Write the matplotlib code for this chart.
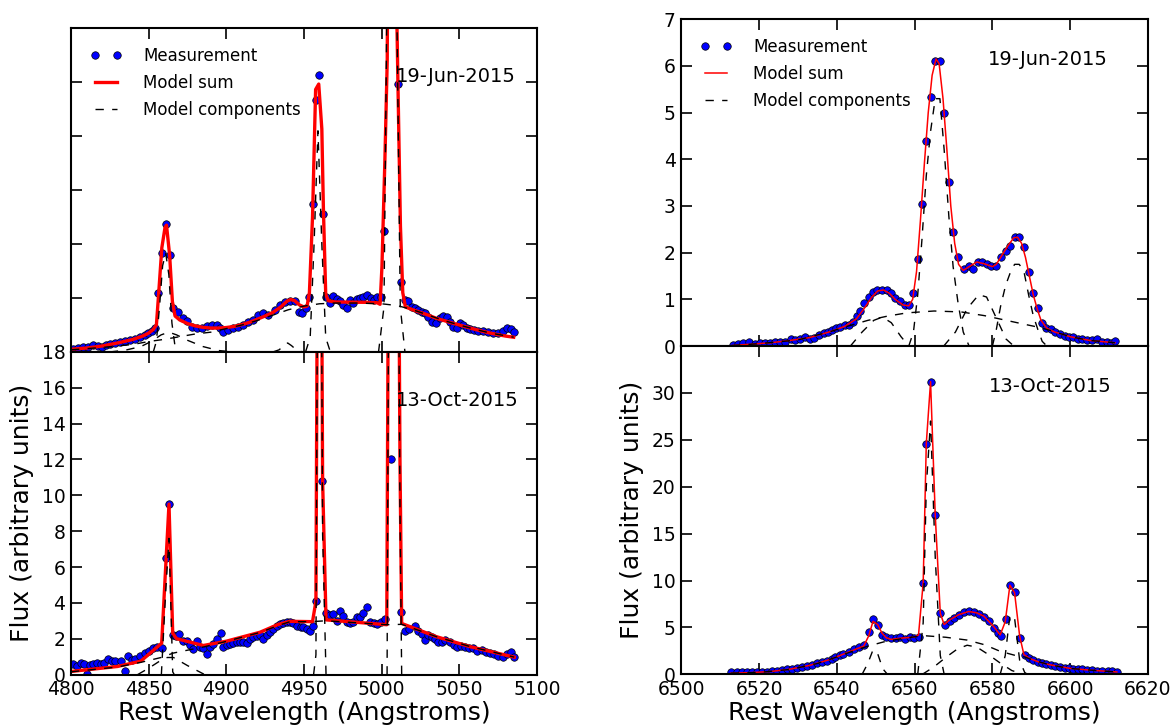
import matplotlib
matplotlib.use("Agg")
import matplotlib.pyplot as plt

plt.rcParams['font.family'] = ['DejaVu Sans']

# ================= Hbeta / [OIII] region, 19-Jun-2015 =================
hbj_wave = [4801.5, 4804.7, 4807.9, 4811.2, 4814.4, 4817.6, 4819.7, 4822.4, 4825.1, 4828.3,
            4831.5, 4834.8, 4838.0, 4841.2, 4844.4, 4847.6, 4849.8, 4851.9, 4854.1, 4856.2,
            4858.4, 4861.2, 4863.7, 4865.9, 4869.1, 4872.3, 4874.5, 4877.7, 4880.9, 4884.1,
            4887.4, 4890.6, 4893.8, 4896.0, 4898.1, 4901.3, 4904.5, 4907.8, 4911.0, 4914.2,
            4917.4, 4920.6, 4923.9, 4927.1, 4931.3, 4934.6, 4937.8, 4941.0, 4944.2, 4946.8,
            4948.9, 4951.1, 4953.2, 4955.6, 4957.7, 4959.9, 4962.0, 4964.2, 4966.7, 4968.9,
            4971.0, 4973.2, 4975.3, 4977.5, 4979.6, 4981.7, 4983.9, 4986.1, 4988.2, 4990.8,
            4992.9, 4995.1, 4997.2, 4999.4, 5001.7, 5003.8, 5006.0, 5008.1, 5010.3, 5012.4,
            5015.0, 5017.1, 5019.3, 5021.5, 5023.6, 5025.8, 5027.9, 5030.0, 5032.2, 5034.8,
            5037.6, 5039.7, 5041.9, 5044.0, 5046.2, 5048.3, 5050.4, 5052.6, 5054.7, 5056.9,
            5059.4, 5062.2, 5065.4, 5068.7, 5071.9, 5075.1, 5078.3, 5080.9, 5083.0, 5085.4]
hbj_flux = [0.17, 0.24, 0.30, 0.30, 0.37, 0.33, 0.30, 0.38, 0.45, 0.52,
            0.56, 0.63, 0.67, 0.74, 0.85, 0.93, 1.04, 1.17, 1.35, 3.27,
            5.53, 7.12, 5.40, 2.43, 2.24, 1.87, 1.74, 1.41, 1.32, 1.32,
            1.45, 1.50, 1.50, 1.32, 1.10, 1.22, 1.32, 1.39, 1.50, 1.67,
            1.78, 2.06, 2.15, 2.06, 2.34, 2.62, 2.80, 2.86, 2.86, 2.24,
            2.15, 2.43, 3.08, 8.22, 14.02, 15.41, 7.68, 3.08, 2.71, 3.12,
            2.93, 2.86, 2.62, 2.43, 2.89, 2.71, 2.93, 2.99, 3.08, 3.17,
            2.99, 2.89, 3.04, 3.04, 6.73, 30.0, 60.0, 45.0, 14.91, 3.88,
            2.89, 2.86, 2.52, 2.43, 2.34, 2.24, 2.15, 1.97, 1.69, 1.60,
            1.87, 2.00, 1.97, 1.69, 1.41, 1.35, 1.60, 1.50, 1.32, 1.26,
            1.22, 1.19, 1.19, 1.13, 1.08, 1.08, 1.19, 1.32, 1.25, 1.13]
hbj_model_wave = [4800, 4810, 4820, 4830, 4840, 4846, 4850, 4853, 4855, 4856.5, 4858.5, 4860.5,
                  4861.5, 4863.5, 4865.3, 4867, 4870, 4875, 4880, 4885, 4890, 4895, 4900, 4905,
                  4910, 4915, 4920, 4925, 4930, 4935, 4939, 4941.5, 4944, 4947, 4950, 4952,
                  4953.5, 4955.5, 4957.5, 4959.5, 4961.5, 4962.5, 4964, 4965.7, 4970, 4980,
                  4990, 4997, 4999, 5000.2, 5002.1, 5003.6, 5006, 5009.5, 5010.6, 5012.1,
                  5013.6, 5015.3, 5020, 5025, 5030, 5035, 5040, 5045, 5050, 5055, 5060, 5065,
                  5070, 5075, 5080, 5085]
hbj_model_flux = [0.15, 0.22, 0.33, 0.50, 0.70, 0.88, 1.05, 1.25, 1.50, 3.30, 5.80, 6.90,
                  7.05, 5.40, 2.80, 2.00, 1.78, 1.58, 1.45, 1.37, 1.33, 1.33, 1.36, 1.42,
                  1.52, 1.65, 1.82, 2.00, 2.20, 2.50, 2.82, 2.92, 2.85, 2.62, 2.50, 2.55,
                  3.30, 7.50, 14.6, 14.9, 12.4, 8.0, 3.2, 2.85, 2.78, 2.77,
                  2.76, 2.74, 2.65, 4.75, 10.7, 16.2, 60.0, 20.0, 14.4, 7.0,
                  3.3, 2.5, 2.35, 2.20, 2.05, 1.88, 1.75, 1.62, 1.50, 1.38, 1.26, 1.15,
                  1.05, 0.96, 0.88, 0.82]
hbj_cont_wave = [4800, 4820, 4840, 4850, 4860, 4870, 4880, 4890, 4900, 4910, 4920, 4930, 4940,
                 4950, 4960, 4970, 4985, 5000, 5010, 5020, 5030, 5040, 5050, 5060, 5070, 5085]
hbj_cont_flux = [0.12, 0.25, 0.42, 0.58, 0.70, 0.85, 1.00, 1.10, 1.30, 1.50, 1.75, 2.05, 2.35,
                 2.55, 2.68, 2.72, 2.72, 2.68, 2.58, 2.35, 2.05, 1.75, 1.50, 1.26, 1.05, 0.82]
hbj_bhb_wave = [4825, 4835, 4845, 4852, 4858, 4863, 4868, 4875, 4885, 4895, 4905]
hbj_bhb_flux = [0.0, 0.10, 0.30, 0.60, 0.95, 1.10, 0.95, 0.65, 0.30, 0.08, 0.0]
hbj_nhb_wave = [4853, 4855, 4857, 4859, 4861, 4863, 4865, 4867, 4869]
hbj_nhb_flux = [0.0, 0.6, 2.5, 4.8, 5.5, 4.3, 1.6, 0.3, 0.0]
hbj_bump_wave = [4930, 4934, 4937, 4939.5, 4942, 4945, 4949]
hbj_bump_flux = [0.0, 0.12, 0.35, 0.50, 0.35, 0.12, 0.0]
hbj_o3a_wave = [4951, 4954, 4956.5, 4959, 4961.5, 4964, 4967]
hbj_o3a_flux = [0.0, 0.8, 6.0, 12.3, 6.0, 0.8, 0.0]
hbj_o3b_wave = [4998, 5001.5, 5004, 5006.5, 5009, 5012, 5015]
hbj_o3b_flux = [0.0, 2.5, 25.0, 57.0, 25.0, 2.5, 0.0]

# ================= Hbeta / [OIII] region, 13-Oct-2015 =================
hbo_wave = [4801.1, 4803.6, 4806.2, 4808.4, 4810.0, 4812.2, 4814.4, 4816.9, 4819.1, 4821.2,
            4824.0, 4826.2, 4828.3, 4832.2, 4834.8, 4836.9, 4839.1, 4841.2, 4844.4, 4847.6,
            4850.4, 4853.0, 4855.2, 4858.4, 4860.9, 4863.1, 4865.5, 4867.6, 4869.7, 4871.9,
            4874.5, 4876.6, 4878.7, 4880.9, 4883.0, 4885.2, 4887.3, 4889.5, 4891.6, 4893.8,
            4896.4, 4898.1, 4900.2, 4902.4, 4904.5, 4906.7, 4908.8, 4910.9, 4913.1, 4915.2,
            4917.4, 4919.5, 4921.7, 4923.8, 4926.0, 4928.1, 4930.2, 4932.4, 4934.6, 4936.7,
            4938.9, 4941.0, 4943.1, 4945.7, 4947.9, 4949.5, 4951.7, 4953.9, 4956.0, 4957.7,
            4959.9, 4961.9, 4964.2, 4966.7, 4968.9, 4971.0, 4973.2, 4975.4, 4977.5, 4979.6,
            4981.8, 4983.9, 4986.1, 4988.2, 4990.4, 4992.5, 4995.1, 4997.3, 4999.4, 5002.2,
            5006.1, 5008.3, 5012.6, 5015.0, 5017.8, 5021.5, 5023.6, 5025.8, 5027.9, 5030.0,
            5032.2, 5034.3, 5036.4, 5038.6, 5040.8, 5044.0, 5046.6, 5048.7, 5050.9, 5053.7,
            5056.2, 5059.0, 5061.6, 5064.4, 5067.2, 5069.8, 5072.3, 5075.1, 5077.9, 5080.9,
            5083.0, 5085.4]
hbo_flux = [0.56, 0.50, 0.65, 0.61, 0.05, 0.54, 0.59, 0.65, 0.59, 0.63,
            0.87, 0.78, 0.74, 0.78, 0.22, 1.02, 0.83, 0.87, 1.06, 1.19,
            1.34, 1.49, 1.52, 1.47, 6.48, 9.51, 2.23, 2.14, 2.27, 1.86,
            1.86, 1.65, 1.43, 1.86, 1.52, 1.49, 1.15, 1.52, 1.71, 2.00,
            2.31, 1.56, 1.62, 1.71, 1.75, 1.80, 1.80, 1.84, 1.75, 2.00,
            2.08, 2.14, 2.21, 2.00, 2.19, 2.36, 2.54, 2.73, 2.82, 2.88,
            2.92, 2.92, 2.86, 2.73, 2.64, 2.64, 2.54, 2.45, 2.70, 4.09,
            40.0, 10.78, 3.44, 3.34, 3.38, 3.01, 3.53, 3.28, 2.92, 2.88,
            2.92, 3.19, 3.23, 3.41, 3.79, 2.92, 2.86, 2.82, 2.92, 3.10,
            12.0, 55.0, 3.47, 2.45, 2.54, 2.70, 2.45, 2.27, 1.90, 2.21,
            2.12, 1.97, 1.84, 1.84, 1.90, 1.84, 1.65, 1.56, 1.60, 1.52,
            1.47, 1.47, 1.34, 1.38, 1.24, 1.19, 1.15, 1.06, 0.97, 1.13,
            1.24, 0.97]
hbo_model_wave = [4800, 4830, 4845, 4858.4, 4863.1, 4865.5, 4868, 4885.2, 4900, 4921.7, 4933.5,
                  4941, 4955.5, 4957.7, 4959.9, 4962.0, 4964.2, 5003.3, 5005.2, 5008.6, 5011.8,
                  5012.9, 5035, 5056.7, 5085.4]
hbo_model_flux = [0.17, 0.45, 0.75, 1.75, 9.51, 2.30, 2.00, 1.62, 1.86, 2.36, 2.80,
                  2.97, 2.95, 4.09, 50.0, 10.8, 3.05, 2.78, 40.0, 60.0, 12.0,
                  2.85, 2.12, 1.56, 0.97]
hbo_cont_wave = [4800, 4830, 4845, 4858, 4866, 4886, 4900, 4921.7, 4935, 4941, 4955, 4964,
                 5003, 5013, 5035, 5057, 5085.4]
hbo_cont_flux = [0.15, 0.42, 0.68, 0.95, 1.20, 1.55, 1.85, 2.35, 2.78, 2.95, 2.95, 3.00,
                 2.78, 2.80, 2.12, 1.56, 0.97]
hbo_bhb_wave = [4843, 4850, 4858, 4862, 4866, 4875, 4886]
hbo_bhb_flux = [0.0, 0.35, 0.80, 0.95, 0.95, 0.50, 0.0]
hbo_nhb_wave = [4858.2, 4860.9, 4863.1, 4865.5, 4866.5]
hbo_nhb_flux = [0.0, 4.5, 7.6, 0.15, 0.0]
hbo_o3a_wave = [4956.2, 4957.7, 4959.9, 4962.0, 4964.2]
hbo_o3a_flux = [0.0, 1.1, 47.0, 7.8, 0.0]
hbo_o3b_wave = [5003.5, 5005.2, 5008.6, 5011.8, 5012.9]
hbo_o3b_flux = [0.0, 37.0, 57.0, 9.2, 0.0]

# ================= Halpha region, 19-Jun-2015 =================
haj_wave = [6513.4, 6514.7, 6516.0, 6517.5, 6519.0, 6520.3, 6521.6, 6522.8, 6524.1, 6525.4,
            6526.7, 6528.2, 6529.3, 6530.6, 6531.9, 6533.0, 6534.2, 6535.3, 6536.6, 6537.7,
            6538.7, 6539.8, 6540.9, 6542.0, 6543.0, 6544.1, 6545.2, 6546.0, 6547.1, 6548.2,
            6549.3, 6550.3, 6551.6, 6552.9, 6553.9, 6555.0, 6556.3, 6557.4, 6558.5, 6559.7,
            6560.8, 6561.9, 6563.0, 6564.1, 6565.3, 6566.5, 6567.6, 6568.8, 6569.9, 6571.2,
            6572.6, 6573.9, 6575.0, 6576.2, 6577.4, 6578.5, 6579.7, 6580.9, 6582.1, 6583.4,
            6584.5, 6585.7, 6586.9, 6588.1, 6589.3, 6590.5, 6591.7, 6592.8, 6593.9, 6595.1,
            6596.2, 6597.3, 6598.6, 6599.7, 6600.8, 6602.0, 6603.1, 6604.4, 6605.7, 6607.0,
            6608.1, 6609.4, 6610.4, 6611.5]
haj_flux = [0.02, 0.04, 0.06, 0.08, 0.04, 0.06, 0.06, 0.07, 0.08, 0.09,
            0.08, 0.14, 0.13, 0.14, 0.20, 0.14, 0.18, 0.24, 0.27, 0.29,
            0.34, 0.38, 0.41, 0.45, 0.45, 0.52, 0.64, 0.76, 0.92, 1.06,
            1.16, 1.21, 1.21, 1.20, 1.13, 1.02, 0.97, 0.88, 0.88, 1.13,
            1.86, 3.05, 4.39, 5.34, 6.11, 6.11, 4.99, 3.52, 2.45, 1.90,
            1.66, 1.71, 1.64, 1.79, 1.81, 1.76, 1.71, 1.71, 1.90, 2.04,
            2.14, 2.34, 2.34, 2.13, 1.59, 1.13, 0.81, 0.50, 0.38, 0.36,
            0.29, 0.26, 0.21, 0.20, 0.19, 0.15, 0.15, 0.13, 0.13, 0.16,
            0.08, 0.08, 0.06, 0.11]
haj_model_wave = [6513, 6518, 6523, 6528, 6533, 6538, 6542, 6545, 6547, 6549, 6550.5, 6552,
                  6553.5, 6555, 6557, 6558.5, 6559.5, 6560.5, 6561.5, 6562.5, 6563.5, 6564.5,
                  6565.5, 6566.3, 6567.3, 6568.3, 6569.3, 6570.3, 6571.3, 6572.5, 6574, 6576,
                  6578, 6580, 6581, 6582.5, 6584, 6585.5, 6586.5, 6587.5, 6588.5, 6589.5,
                  6590.5, 6591.5, 6592.5, 6594, 6596, 6600, 6605, 6611.5]
haj_model_flux = [0.01, 0.04, 0.07, 0.12, 0.18, 0.30, 0.42, 0.58, 0.80, 1.05, 1.18, 1.20,
                  1.13, 1.00, 0.88, 0.86, 1.00, 1.60, 2.70, 3.90, 5.00, 5.80,
                  6.15, 6.05, 5.30, 4.20, 3.00, 2.20, 1.75, 1.62, 1.70, 1.80,
                  1.76, 1.70, 1.75, 1.95, 2.15, 2.32, 2.33, 2.20, 1.90, 1.50,
                  1.10, 0.80, 0.55, 0.38, 0.30, 0.20, 0.12, 0.07]
haj_broad_wave = [6513, 6520, 6530, 6538, 6543, 6548, 6553, 6558, 6565, 6572, 6578, 6583,
                  6588, 6592, 6595, 6600, 6605, 6611.5]
haj_broad_flux = [0.01, 0.05, 0.13, 0.30, 0.43, 0.55, 0.64, 0.71, 0.75, 0.73, 0.65, 0.56,
                  0.47, 0.40, 0.33, 0.20, 0.12, 0.07]
haj_n2a_wave = [6543.5, 6546.5, 6549.5, 6551.7, 6554, 6556.5, 6558.5]
haj_n2a_flux = [0.0, 0.30, 0.55, 0.62, 0.50, 0.20, 0.0]
haj_ha_wave = [6558.5, 6559.7, 6560.8, 6561.9, 6563.0, 6564.1, 6565.3, 6566.5, 6567.6,
               6568.8, 6569.9, 6571.2, 6572.5, 6574.0]
haj_ha_flux = [0.0, 0.3, 1.1, 2.3, 3.65, 4.6, 5.3, 5.3, 4.2, 2.78, 1.7, 0.9, 0.3, 0.0]
haj_mid_wave = [6567.5, 6570.5, 6573.5, 6576.5, 6578.5, 6581, 6583.5, 6585.5]
haj_mid_flux = [0.0, 0.30, 0.80, 1.10, 1.05, 0.60, 0.15, 0.0]
haj_n2b_wave = [6580.0, 6581.0, 6582.1, 6583.4, 6584.5, 6585.7, 6586.9, 6588.1, 6589.3,
                6590.5, 6591.7, 6592.8, 6594.0]
haj_n2b_flux = [0.0, 0.35, 0.85, 1.30, 1.55, 1.75, 1.75, 1.60, 1.10, 0.65, 0.35, 0.10, 0.0]

# ================= Halpha region, 13-Oct-2015 =================
hao_wave = [6512.7, 6514.3, 6515.6, 6516.9, 6518.2, 6519.4, 6520.7, 6522.0, 6523.3, 6524.6,
            6525.9, 6527.1, 6528.4, 6529.7, 6531.0, 6532.3, 6533.6, 6534.9, 6536.2, 6537.4,
            6538.7, 6539.6, 6540.7, 6541.7, 6543.0, 6544.3, 6545.6, 6546.9, 6548.2, 6549.3,
            6550.5, 6551.6, 6552.7, 6553.9, 6555.1, 6556.3, 6557.5, 6558.7, 6559.9, 6561.0,
            6562.2, 6563.0, 6564.1, 6565.3, 6566.6, 6567.9, 6569.0, 6570.2, 6571.3, 6572.6,
            6573.9, 6575.2, 6576.5, 6577.8, 6579.1, 6580.3, 6581.4, 6582.3, 6583.4, 6584.5,
            6585.7, 6587.0, 6588.3, 6589.4, 6590.5, 6591.7, 6592.8, 6593.9, 6595.1, 6596.2,
            6597.3, 6598.6, 6599.7, 6600.8, 6602.0, 6603.1, 6604.4, 6605.7, 6607.0, 6608.3,
            6609.6, 6610.8, 6612.0]
hao_flux = [0.21, 0.20, 0.20, 0.20, 0.20, 0.20, 0.25, 0.28, 0.32, 0.39,
            0.46, 0.53, 0.60, 0.71, 0.81, 0.92, 1.03, 1.18, 1.32, 1.46,
            1.67, 1.88, 2.03, 2.17, 2.42, 2.71, 2.95, 3.13, 4.49, 5.91,
            5.27, 4.20, 3.96, 3.91, 3.91, 3.99, 3.76, 3.96, 3.85, 4.02,
            9.73, 24.6, 31.2, 17.0, 6.52, 5.27, 5.63, 5.99, 6.34, 6.59,
            6.70, 6.66, 6.45, 6.09, 5.63, 4.92, 4.38, 4.10, 5.91, 9.48,
            8.73, 3.92, 2.06, 1.71, 1.53, 1.35, 1.18, 1.07, 1.00, 0.89,
            0.78, 0.71, 0.64, 0.60, 0.57, 0.53, 0.46, 0.43, 0.39, 0.35,
            0.32, 0.32, 0.25]
hao_model_wave = [6512.7, 6518, 6523, 6528, 6533, 6538, 6542, 6545, 6546.9, 6548.2, 6549.3,
                  6550.5, 6551.6, 6552.7, 6554, 6556.3, 6559.9, 6561.0, 6562.2, 6563.0, 6564.1,
                  6565.3, 6566.6, 6567.6, 6569, 6571.3, 6573.9, 6576, 6577.8, 6580.3, 6582.0,
                  6583.3, 6584.5, 6585.7, 6587.0, 6588.1, 6589.5, 6592, 6595, 6600, 6605, 6612]
hao_model_flux = [0.12, 0.18, 0.30, 0.55, 0.95, 1.55, 2.20, 2.70, 3.00, 4.10, 5.65,
                  5.30, 4.40, 3.90, 3.72, 3.85, 3.96, 4.20, 9.73, 24.6, 31.2,
                  17.0, 6.50, 5.30, 5.80, 6.35, 6.70, 6.55, 6.20, 5.10, 4.20,
                  5.60, 9.50, 8.70, 4.10, 2.10, 1.70, 1.30, 1.00, 0.63, 0.45, 0.25]
hao_broad_wave = [6512.7, 6520, 6528, 6535, 6540, 6545, 6548, 6552, 6556, 6560, 6563, 6568,
                  6573.5, 6578, 6582, 6586, 6588.3, 6590.5, 6595, 6600, 6605, 6612]
hao_broad_flux = [0.12, 0.20, 0.52, 1.15, 1.85, 2.60, 3.00, 3.45, 3.75, 4.00, 4.10, 3.95,
                  3.65, 3.15, 2.45, 2.00, 1.85, 1.50, 0.98, 0.63, 0.45, 0.25]
hao_n2a_wave = [6546.5, 6548.0, 6549.3, 6550.5, 6551.8, 6553.0]
hao_n2a_flux = [0.0, 1.2, 2.6, 2.2, 0.6, 0.0]
hao_ha_wave = [6560.8, 6562.2, 6563.0, 6564.1, 6565.3, 6566.6, 6567.6]
hao_ha_flux = [0.0, 5.5, 20.0, 27.0, 12.5, 2.0, 0.0]
hao_mid_wave = [6562, 6565, 6568, 6571, 6573.5, 6576, 6579, 6582, 6585, 6588]
hao_mid_flux = [0.0, 0.8, 1.8, 2.7, 3.1, 2.9, 2.1, 1.2, 0.4, 0.0]
hao_n2b_wave = [6582.0, 6583.3, 6584.5, 6585.7, 6587.0, 6588.3, 6589.0]
hao_n2b_flux = [0.0, 2.0, 6.3, 6.0, 1.5, 0.2, 0.0]

# ---------------------------------------------------------------------
fig = plt.figure(figsize=(11.75, 7.26), dpi=100)
ax_tl = fig.add_axes([0.0604, 0.5152, 0.3966, 0.4458])
ax_bl = fig.add_axes([0.0604, 0.0709, 0.3966, 0.4443])
ax_tr = fig.add_axes([0.5798, 0.5234, 0.3972, 0.4500])
ax_br = fig.add_axes([0.5798, 0.0712, 0.3972, 0.4522])

DASH = (6, 6)


def draw(ax, mw, mf, modw, modf, comps, red_lw):
    ax.plot(mw, mf, 'o', ls='none', color='blue', mec='black', mew=0.5, ms=5.4,
            label='Measurement')
    ax.plot(modw, modf, '-', color='red', lw=red_lw, label='Model sum')
    for i, (cw, cf) in enumerate(comps):
        ax.plot(cw, cf, color='black', lw=1.0, ls='--', dashes=DASH,
                label='Model components' if i == 0 else '_nolegend_')


draw(ax_tl, hbj_wave, hbj_flux, hbj_model_wave, hbj_model_flux,
     [(hbj_cont_wave, hbj_cont_flux), (hbj_bhb_wave, hbj_bhb_flux),
      (hbj_nhb_wave, hbj_nhb_flux), (hbj_bump_wave, hbj_bump_flux),
      (hbj_o3a_wave, hbj_o3a_flux), (hbj_o3b_wave, hbj_o3b_flux)], 2.4)
draw(ax_bl, hbo_wave, hbo_flux, hbo_model_wave, hbo_model_flux,
     [(hbo_cont_wave, hbo_cont_flux), (hbo_bhb_wave, hbo_bhb_flux),
      (hbo_nhb_wave, hbo_nhb_flux), (hbo_o3a_wave, hbo_o3a_flux),
      (hbo_o3b_wave, hbo_o3b_flux)], 2.4)
draw(ax_tr, haj_wave, haj_flux, haj_model_wave, haj_model_flux,
     [(haj_broad_wave, haj_broad_flux), (haj_n2a_wave, haj_n2a_flux),
      (haj_ha_wave, haj_ha_flux), (haj_mid_wave, haj_mid_flux),
      (haj_n2b_wave, haj_n2b_flux)], 1.1)
draw(ax_br, hao_wave, hao_flux, hao_model_wave, hao_model_flux,
     [(hao_broad_wave, hao_broad_flux), (hao_n2a_wave, hao_n2a_flux),
      (hao_ha_wave, hao_ha_flux), (hao_mid_wave, hao_mid_flux),
      (hao_n2b_wave, hao_n2b_flux)], 1.1)

for ax in (ax_tl, ax_bl, ax_tr, ax_br):
    ax.tick_params(direction='in', top=True, right=True, length=8, width=1.2,
                   labelsize=13.5, pad=4)
    for s in ax.spines.values():
        s.set_linewidth(1.5)

ax_tl.set_xlim(4800, 5100)
ax_bl.set_xlim(4800, 5100)
ax_tl.set_xticks(range(4800, 5101, 50))
ax_bl.set_xticks(range(4800, 5101, 50))
ax_tl.set_ylim(0, 18)
ax_tl.set_yticks(range(0, 19, 3))
ax_tl.tick_params(labelbottom=False, labelleft=False)
ax_bl.set_ylim(0, 18)
ax_bl.set_yticks(range(0, 19, 2))

ax_tr.set_xlim(6500, 6620)
ax_br.set_xlim(6500, 6620)
ax_tr.set_xticks(range(6500, 6621, 20))
ax_br.set_xticks(range(6500, 6621, 20))
ax_tr.set_ylim(0, 7)
ax_tr.set_yticks(range(0, 8))
ax_tr.tick_params(labelbottom=False)
ax_br.set_ylim(0, 35)
ax_br.set_yticks(range(0, 31, 5))

for ax, x in ((ax_bl, -0.080), (ax_br, -0.080)):
    ax.set_xlabel('Rest Wavelength (Angstroms)', fontsize=18)
    ax.set_ylabel('Flux (arbitrary units)', fontsize=18)
    ax.yaxis.set_label_coords(x, 0.5)
ax_bl.xaxis.set_label_coords(0.5, -0.082)
ax_br.xaxis.set_label_coords(0.5, -0.080)

for ax in (ax_tl, ax_tr):
    ax.legend(loc='upper left', frameon=False, fontsize=12, numpoints=2,
              handlelength=1.95, handletextpad=1.25, labelspacing=0.55,
              borderaxespad=0.72)

ax_tl.text(0.955, 0.852, '19-Jun-2015', transform=ax_tl.transAxes, ha='right',
           va='center', fontsize=14)
ax_bl.text(0.9605, 0.851, '13-Oct-2015', transform=ax_bl.transAxes, ha='right',
           va='center', fontsize=14)
ax_tr.text(0.914, 0.878, '19-Jun-2015', transform=ax_tr.transAxes, ha='right',
           va='center', fontsize=14)
ax_br.text(0.923, 0.876, '13-Oct-2015', transform=ax_br.transAxes, ha='right',
           va='center', fontsize=14)

fig.savefig('out.png', dpi=100)
